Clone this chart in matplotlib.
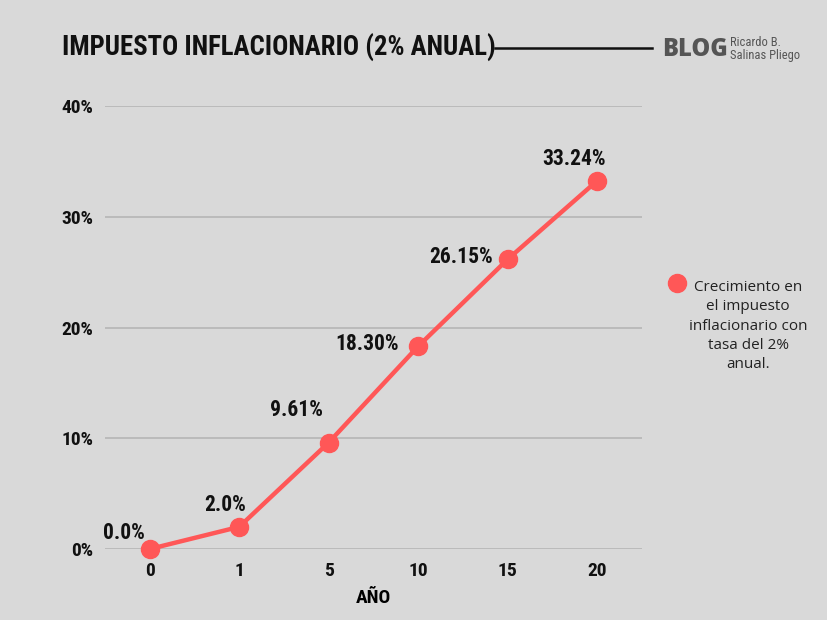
import matplotlib
matplotlib.use("Agg")
from matplotlib import pyplot as plt
from matplotlib import font_manager

years = ["0", "1", "5", "10", "15", "20"]
values = [0.0, 2.0, 9.61, 18.30, 26.15, 33.24]
labels = ["0.0%", "2.0%", "9.61%", "18.30%", "26.15%", "33.24%"]
yticks = [0, 10, 20, 30, 40]

BG = "#d9d9d9"
RED = "#ff5757"

names = {f.name for f in font_manager.fontManager.ttflist}
narrow = "DejaVu Sans"
for cand in ["Roboto Condensed", "Liberation Sans Narrow", "DejaVu Sans Condensed", "Open Sans Condensed"]:
    if cand in names:
        narrow = cand
        break

fig = plt.figure(figsize=(8.27, 6.2), dpi=100, facecolor=BG)
ax = fig.add_axes([0.127, 0.1145, 0.649, 0.7145])
ax.set_facecolor(BG)

x = list(range(len(years)))
ax.plot(x, values, color=RED, lw=3.2, marker="o", ms=13, clip_on=False, zorder=3)

# label offsets in pixels
offsets = [(-26, 16), (-14, 22), (-32, 33), (-51, 2), (-46, 2), (-23, 22)]
for xi, v, lab, off in zip(x, values, labels, offsets):
    ax.annotate(lab, (xi, v), xytext=off, textcoords="offset pixels",
                ha="center", va="center", fontsize=15.5, fontweight="bold",
                family=narrow, color="#111111")

ax.set_xlim(-0.5, 5.5)
ax.set_ylim(0, 40)
ax.set_xticks(x)
ax.set_xticklabels(years)
ax.set_yticks(yticks)
ax.set_yticklabels([f"{t}%" for t in yticks])
ax.grid(axis="y", color="#b3b3b3", lw=1.1)
ax.set_axisbelow(True)
for s in ax.spines.values():
    s.set_visible(False)
ax.tick_params(length=0, labelsize=14)
ax.tick_params(axis="x", pad=9)
ax.tick_params(axis="y", pad=8.5)
for t in ax.get_xticklabels() + ax.get_yticklabels():
    t.set_family(narrow)
    t.set_fontweight("bold")
    t.set_color("#111111")
ax.set_xlabel("AÑO", family=narrow, fontweight="bold", fontsize=14, labelpad=6.5)

fig.text(62 / 827, 1 - 48 / 620, "IMPUESTO INFLACIONARIO (2% ANUAL)", family=narrow,
         fontweight="bold", fontsize=19.3, va="center", ha="left", color="#111111")
fig.add_artist(plt.Line2D([495 / 827, 652 / 827], [1 - 48 / 620] * 2, color="#111111", lw=1.8))
fig.text(662 / 827, 1 - 49 / 620, "BLOG", family="Open Sans", fontsize=17, fontweight="heavy",
         color="#555555", va="center", ha="left")
fig.text(730 / 827, 1 - 43 / 620, "Ricardo B.", family=narrow, fontsize=9, color="#555555",
         va="center", ha="left")
fig.text(730 / 827, 1 - 55 / 620, "Salinas Pliego", family=narrow, fontsize=9, color="#555555",
         va="center", ha="left")

# legend
fig.add_artist(plt.Line2D([677 / 827], [1 - 283 / 620], marker="o", ms=13, color=RED, lw=0))
fig.text(748 / 827, 1 - 326 / 620,
         "Crecimiento en\nel impuesto\ninflacionario con\ntasa del 2%\nanual.",
         family="Open Sans", fontsize=11, color="#222222", ha="center", va="center",
         linespacing=1.4)

fig.savefig("out.png", dpi=100, facecolor=BG)
